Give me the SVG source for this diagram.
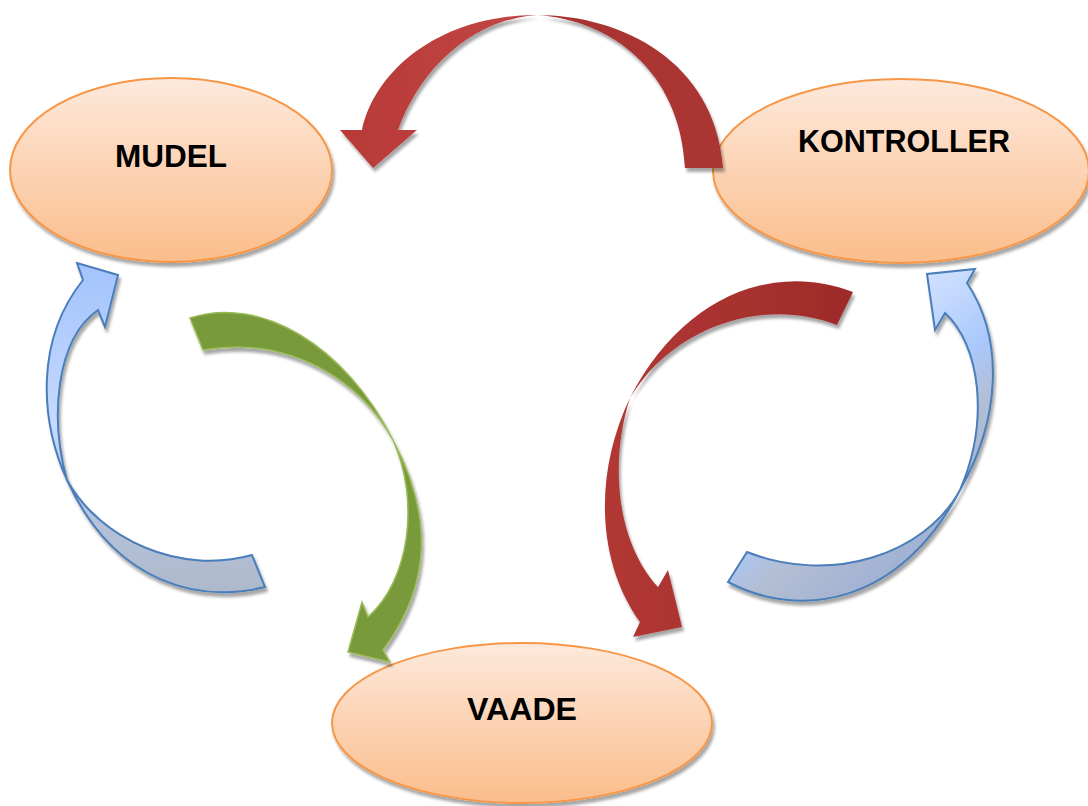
<svg xmlns="http://www.w3.org/2000/svg" width="1088" height="806" viewBox="0 0 1088 806">
  <defs>
    <style>
      .node ellipse { fill: url(#ellGrad); stroke: #f79646; stroke-width: 2; filter: url(#shadow); }
      .label { font-family: "Liberation Sans", Arial, sans-serif; font-weight: bold; font-size: 31px; fill: #000; text-anchor: middle; }
      .arrow { filter: url(#shadow); }
      .blue { stroke: #4a7ebb; stroke-width: 2; stroke-linejoin: miter; }
      .green { fill: #789a3a; stroke: #9bbb59; stroke-width: 1.5; }
    </style>
    <linearGradient id="ellGrad" x1="0" y1="0" x2="0" y2="1">
      <stop offset="0" stop-color="#fde9dc"/>
      <stop offset="1" stop-color="#fbbd8b"/>
    </linearGradient>
    <linearGradient id="redTop" gradientUnits="userSpaceOnUse" x1="340" y1="0" x2="723" y2="0">
      <stop offset="0" stop-color="#b83a37"/>
      <stop offset="0.45" stop-color="#c04542"/>
      <stop offset="0.55" stop-color="#a83332"/>
      <stop offset="1" stop-color="#ab3533"/>
    </linearGradient>
    <linearGradient id="redLow" gradientUnits="userSpaceOnUse" x1="600" y1="0" x2="853" y2="0">
      <stop offset="0" stop-color="#b23834"/>
      <stop offset="1" stop-color="#9e2b2a"/>
    </linearGradient>
    <linearGradient id="blueL" gradientUnits="userSpaceOnUse" x1="0" y1="262" x2="0" y2="595">
      <stop offset="0" stop-color="#a3c3fb"/>
      <stop offset="0.5" stop-color="#c7daff"/>
      <stop offset="0.68" stop-color="#b8c6e0"/>
      <stop offset="1" stop-color="#aeb8cb"/>
    </linearGradient>
    <linearGradient id="blueR" gradientUnits="userSpaceOnUse" x1="730" y1="270" x2="1000" y2="600">
      <stop offset="0" stop-color="#eef4ff"/>
      <stop offset="0.35" stop-color="#c9dcff"/>
      <stop offset="0.5" stop-color="#aac8fb"/>
      <stop offset="0.62" stop-color="#b3bed4"/>
      <stop offset="1" stop-color="#8aa2d0"/>
    </linearGradient>
    <filter id="shadow" x="-10%" y="-10%" width="130%" height="130%">
      <feDropShadow dx="2" dy="4" stdDeviation="1.8" flood-color="#000" flood-opacity="0.35"/>
    </filter>
  </defs>

  <rect width="1088" height="806" fill="#ffffff"/>

  <g id="node-mudel" class="node">
    <ellipse cx="171" cy="170" rx="161" ry="92"/>
    <text class="label" x="171" y="167" textLength="112" lengthAdjust="spacingAndGlyphs">MUDEL</text>
  </g>

  <g id="node-kontroller" class="node">
    <ellipse cx="901" cy="171" rx="188" ry="92"/>
    <text class="label" x="904" y="152" textLength="212" lengthAdjust="spacingAndGlyphs">KONTROLLER</text>
  </g>

  <g id="node-vaade" class="node">
    <ellipse cx="522" cy="723" rx="190" ry="80"/>
    <text class="label" x="522" y="720" textLength="110" lengthAdjust="spacingAndGlyphs">VAADE</text>
  </g>

  <g id="connectors">
    <!-- Kontroller -> Mudel (top red) -->
    <path class="arrow" fill="url(#redTop)" d="M 723,168 C 715,60 620,15 537,15 C 440,15 375,70 362,130 L 340,130 L 373,168 L 417,130 L 398,130 C 420,70 470,20 537,15 C 610,20 680,70 685,168 Z"/>
    <!-- Mudel -> Vaade (green) -->
    <path class="arrow green" d="M 190,318 C 260,295 345,345 393,440 C 430,510 435,580 383,650 L 390,662 L 348,652 L 362,602 L 368,617 C 410,580 420,500 393,440 C 360,380 290,335 203,350 Z"/>
    <!-- Kontroller -> Vaade (red lower) -->
    <path class="arrow" fill="url(#redLow)" d="M 853,292 C 770,260 680,300 630,398 C 595,470 595,560 640,622 L 633,637 L 682,627 L 668,570 L 658,587 C 615,540 610,460 630,398 C 670,330 760,295 837,325 Z"/>
    <!-- Vaade -> Mudel (blue left) -->
    <path class="arrow blue" fill="url(#blueL)" d="M 265,587 C 200,603 115,585 67,480 C 40,420 35,340 83,280 L 77,263 L 118,275 L 105,327 L 98,310 C 55,340 50,420 67,480 C 100,540 180,575 252,555 Z"/>
    <!-- Vaade -> Kontroller (blue right) -->
    <path class="arrow blue" fill="url(#blueR)" d="M 728,582 C 800,620 900,605 960,490 C 1000,420 1005,340 967,283 L 975,269 L 927,274 L 935,330 L 945,313 C 980,345 990,420 960,490 C 925,555 830,585 747,552 Z"/>
  </g>
</svg>
